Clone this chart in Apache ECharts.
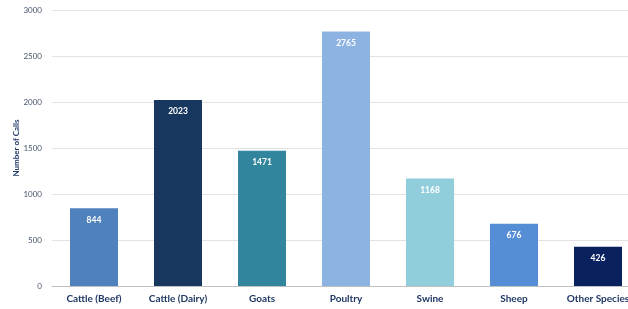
<!DOCTYPE html>
<html><head><meta charset="utf-8">
<script src="https://cdn.jsdelivr.net/npm/echarts@6/dist/echarts.min.js"></script>
<style>html,body{margin:0;padding:0;background:#fff}#c{width:628px;height:309px}</style>
</head><body><div id="c"></div>
<script>
const categories = ['Cattle (Beef)', 'Cattle (Dairy)', 'Goats', 'Poultry', 'Swine', 'Sheep', 'Other Species'];
const values = [844, 2023, 1471, 2765, 1168, 676, 426];
const colors = ['#4F81BD', '#17375E', '#31859C', '#8DB3E2', '#92CDDC', '#558ED5', '#0A2160'];
const yTicks = [0, 500, 1000, 1500, 2000, 2500, 3000];

const chart = echarts.init(document.getElementById('c'), null, {renderer: 'canvas'});
chart.setOption({
  animation: false,
  textStyle: {fontFamily: 'Lato'},
  grid: {left: 52, width: 588, top: 10, height: 276, outerBoundsMode: 'none', containLabel: false},
  xAxis: {
    type: 'category', data: categories,
    axisTick: {show: false},
    axisLine: {lineStyle: {color: '#BFBFBF', width: 1}},
    axisLabel: {color: '#1F3864', fontWeight: 'bold', fontSize: 10, margin: 8, interval: 0}
  },
  yAxis: {
    type: 'value', min: yTicks[0], max: yTicks[yTicks.length - 1], interval: 500,
    name: 'Number of Calls', nameLocation: 'middle', nameGap: 32, nameRotate: 90,
    nameMoveOverlap: false,
    nameTextStyle: {color: '#1F3864', fontWeight: 'bold', fontSize: 8},
    axisLine: {show: false}, axisTick: {show: false},
    axisLabel: {color: '#44546A', fontSize: 8, margin: 10, formatter: v => String(v)},
    splitLine: {lineStyle: {color: '#E3E3E3', width: 1}}
  },
  series: [{
    type: 'bar', barWidth: 48,
    data: values.map((v, i) => ({value: v, itemStyle: {color: colors[i]}})),
    label: {show: true, position: 'insideTop', distance: 7, color: '#fff', fontWeight: 'bold', fontSize: 8.5}
  }]
});
</script></body></html>
